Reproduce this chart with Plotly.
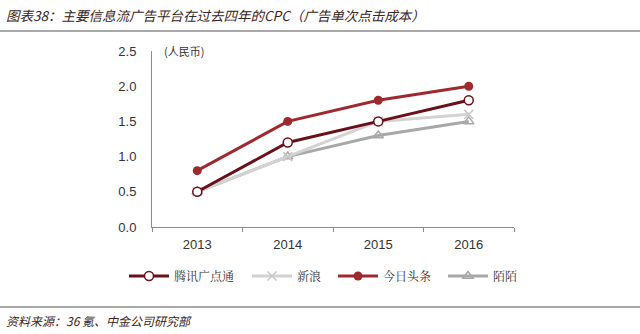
import plotly.graph_objects as go

years = ["2013", "2014", "2015", "2016"]
tencent = [0.5, 1.2, 1.5, 1.8]
sina = [0.5, 1.0, 1.5, 1.6]
toutiao = [0.8, 1.5, 1.8, 2.0]
momo = [0.5, 1.0, 1.3, 1.5]
names = ["腾讯广点通", "新浪", "今日头条", "陌陌"]

CJK = "Noto Sans CJK SC"
NUM = "Liberation Sans, Arial, sans-serif"

fig = go.Figure()
fig.add_trace(go.Scatter(x=years, y=momo, name=names[3], mode="lines+markers",
                         line=dict(color="#A8A8A8", width=3),
                         marker=dict(symbol="triangle-up-open", size=9, color="#A8A8A8", line=dict(width=1.5)),
                         legend="legend4"))
fig.add_trace(go.Scatter(x=years, y=sina, name=names[1], mode="lines+markers",
                         line=dict(color="#D3D3D3", width=3),
                         marker=dict(symbol="x-thin-open", size=9, color="#C8C8C8", line=dict(width=1.5, color="#C8C8C8")),
                         legend="legend2"))
fig.add_trace(go.Scatter(x=years, y=tencent, name=names[0], mode="lines+markers",
                         line=dict(color="#6A1018", width=3),
                         marker=dict(symbol="circle", size=9, color="white", line=dict(width=1.5, color="#6A1018")),
                         legend="legend"))
fig.add_trace(go.Scatter(x=years, y=toutiao, name=names[2], mode="lines+markers",
                         line=dict(color="#9E2A30", width=3),
                         marker=dict(symbol="circle", size=9, color="#9E2A30"),
                         legend="legend3"))

leg_common = dict(orientation="h", yanchor="middle", xanchor="left",
                  font=dict(family="Noto Serif CJK SC, " + CJK, size=12, color="#333333"),
                  bgcolor="rgba(0,0,0,0)", itemwidth=40)
L, W = 152, 362
def lx(px):
    return (px - L) / W
ly = -(276 - 227) / 176
fig.update_layout(
    legend=dict(x=lx(124), y=ly, **leg_common),
    legend2=dict(x=lx(247), y=ly, **leg_common),
    legend3=dict(x=lx(333), y=ly, **leg_common),
    legend4=dict(x=lx(443), y=ly, **leg_common),
)

fig.update_layout(
    width=640, height=334,
    margin=dict(l=152, r=126, t=51, b=107),
    paper_bgcolor="white", plot_bgcolor="white",
    showlegend=True,
    xaxis=dict(type="category", range=[-0.5, 3.5], showline=True, linecolor="#8C8C8C", linewidth=1,
               ticks="outside", ticklen=4, tickcolor="#8C8C8C", tickson="boundaries",
               showgrid=False, zeroline=False, ticklabelstandoff=5,
               tickfont=dict(family=NUM, size=13, color="#333333")),
    yaxis=dict(range=[0, 2.5], dtick=0.5, tickformat=".1f", showline=True, linecolor="#8C8C8C", linewidth=1,
               ticks="", showgrid=False, zeroline=False, ticklabelstandoff=12,
               tickfont=dict(family=NUM, size=13, color="#333333")),
)

fig.add_annotation(text="(人民币)", xref="paper", yref="paper", x=lx(162), y=1.0,
                   xanchor="left", yanchor="middle", showarrow=False,
                   font=dict(family=CJK, size=11, color="#333333"))

fig.add_annotation(text="<i>图表38：主要信息流广告平台在过去四年的CPC（广告单次点击成本）</i>",
                   xref="paper", yref="paper", x=lx(4), y=1 + (51 - 15) / 176,
                   xanchor="left", yanchor="middle", showarrow=False,
                   font=dict(family=CJK, size=13.5, color="#3a2424"))
fig.add_shape(type="line", xref="paper", yref="paper", x0=lx(0), x1=lx(640),
              y0=1 + (51 - 31) / 176, y1=1 + (51 - 31) / 176, line=dict(color="#555555", width=1.2))
fig.add_shape(type="line", xref="paper", yref="paper", x0=lx(0), x1=lx(640),
              y0=-(307 - 227) / 176, y1=-(307 - 227) / 176, line=dict(color="#555555", width=1.2))
fig.add_annotation(text="<i>资料来源：36 氪、中金公司研究部</i>",
                   xref="paper", yref="paper", x=lx(4), y=-(320 - 227) / 176,
                   xanchor="left", yanchor="middle", showarrow=False,
                   font=dict(family=CJK, size=12, color="#3a2424"))

fig.write_html("out.html")
